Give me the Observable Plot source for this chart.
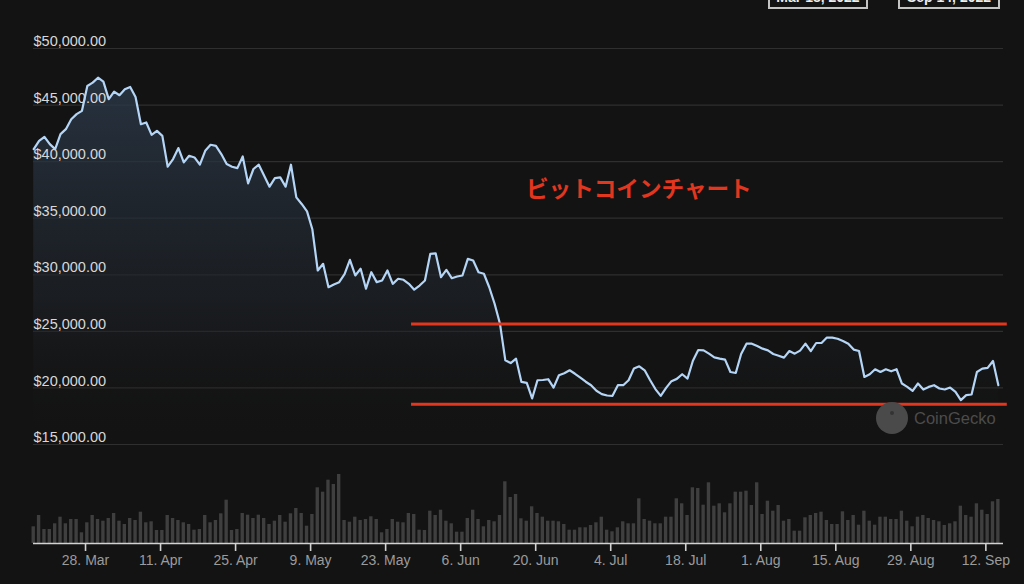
<!DOCTYPE html>
<html>
<head>
<meta charset="utf-8">
<script src="https://cdn.jsdelivr.net/npm/d3@7"></script>
<script src="https://cdn.jsdelivr.net/npm/@observablehq/plot@0.6"></script>
<style>
  html, body { margin: 0; padding: 0; background: #131313; }
  #wrap { position: relative; width: 1024px; height: 584px; overflow: hidden; background: #131313;
          font-family: "Liberation Sans", Arial, sans-serif; }
  #price, #volume { position: absolute; left: 0; }
  #price { top: 0; }
  #volume { top: 460px; }
  #title { position: absolute; left: 526px; top: 177px; color: #e2361f; white-space: nowrap;
           font: 700 22.6px/1 "Noto Sans CJK JP", sans-serif; }
  .datebox { position: absolute; top: -15px; height: 20px; border: 2px solid #c4c4c4; color: #eee;
             font: 700 14px/20px "Liberation Sans", Arial, sans-serif; text-align: center; box-sizing: content-box; }
  #dash { position: absolute; left: 880px; top: -10px; color: #bbb; font: 700 14px "Liberation Sans", Arial; }
  #cg-logo { position: absolute; left: 876px; top: 402px; width: 32px; height: 32px; border-radius: 50%; background: #4a4a4a; }
  #cg-logo::after { content: ""; position: absolute; left: 14px; top: 9px; width: 4px; height: 4px; border-radius: 50%; background: #333; }
  #cg-text { position: absolute; left: 914px; top: 408px; color: #4c4c4c; font: 500 16.5px/20px "Liberation Sans", Arial, sans-serif; }
</style>
</head>
<body>
<div id="wrap">
  <div id="price"></div>
  <div id="volume"></div>
  <div id="title"></div>
  <div class="datebox" id="from" style="left:768px;width:96px;"></div>
  <div id="dash">-</div>
  <div class="datebox" id="to" style="left:898px;width:98px;"></div>
  <div id="cg-logo"></div>
  <div id="cg-text">CoinGecko</div>
</div>
<script>
// ---- data ----
const titleText = "ビットコインチャート";
const fromLabel = "Mar 18, 2022";
const toLabel = "Sep 14, 2022";
const firstDay = "2022-03-18T08:00Z";

// daily BTC price (USD), Mar 18 – Sep 14, 2022
const prices = [
  41100, 41840, 42190, 41550, 41110, 42430, 42870, 43750, 44200, 44490, 46690, 46980, 47420, 47070,
  45520, 46190, 45870, 46400, 46600, 45720, 43310, 43460, 42370, 42720, 42280, 39550, 40230, 41200,
  39930, 40520, 40370, 39730, 40960, 41490, 41400, 40670, 39790, 39550, 39430, 40460, 38080, 39350,
  39730, 38760,
  37790, 38550, 38610, 37790, 39730, 36840, 36260, 35600, 34000, 30380, 30970, 28900, 29150, 29350,
  30050, 31320, 29940, 30530, 28770, 30230, 29350, 29500, 30380, 29200, 29650, 29560, 29200, 28680,
  29050, 29500, 31850,
  31900, 29790, 30440, 29700, 29850, 29940, 31410, 31260, 30230, 30090, 28900, 27440, 25680, 22440,
  22200, 22590, 20530, 20440, 19070, 20680, 20700, 20770, 20030, 21120, 21300, 21560, 21250, 20910,
  20550, 20240,
  19750, 19450, 19330, 19300, 20240, 20240, 20680, 21710, 21910, 21560, 20700, 19900, 19300, 20000,
  20600, 20800, 21210, 20830, 22400, 23350, 23320, 23030, 22700, 22590, 22500, 21410, 21320, 23000,
  23910, 23910, 23700,
  23470, 23320, 23000, 22850, 22680, 23260, 23030, 23300, 23910, 23260, 23970, 23970, 24450, 24450,
  24350, 24150, 23910, 23390, 23260, 20970, 21210, 21650, 21410, 21650, 21470, 21650, 20390, 20090,
  19740, 20390, 19860,
  20090, 20240, 19950, 19860, 20030, 19650, 18920, 19360, 19420, 21410, 21710, 21770, 22380, 20240
];

// daily trading volume (billion USD)
const volumes = [
  16.7, 28, 14, 14, 19.7, 26.3, 19.7, 24, 24, 10.7, 20.7, 28, 24, 22.3, 25, 30, 22.3, 19, 25, 23,
  31.3, 20.7, 21.7, 13, 13, 28, 25, 23, 20.7, 19, 13.3, 14, 28, 20.7, 23, 29.7, 43.3, 13, 14, 30,
  28.3, 25, 28.3, 25, 19,
  22.3, 28, 21.3, 29.7, 35, 30, 17.3, 29, 55.7, 51.3, 63.3, 59, 69, 23, 21.3, 26.3, 23, 24, 26.7, 24,
  10.7, 14, 24, 21.3, 20.7, 30, 29, 13.3, 13, 32.3, 28, 33.3, 22.3, 19.7, 11.3, 11.3, 25, 33.3, 24,
  16.7, 23, 21.7, 28, 61.7, 46,
  49, 24.7, 22.3, 36.7, 30, 26.3, 22.3, 22.3, 21.7, 19, 13.3, 13.3, 15.7, 15.7, 18, 20.7, 26.3, 13.3,
  11.7, 15.7, 21.7, 19.7, 19.7, 44.7, 24, 22.3, 19.7, 19.7, 26.3, 26.3, 44.7, 39.7, 28, 55.7, 55, 38.3,
  60.7, 37.3, 39.7, 30.7, 39.7, 51.3, 51.3, 52.3, 38, 60.7,
  29, 42.3, 32.3, 38, 22.3, 24, 12.3, 12.3, 25.7, 28, 30, 31.3, 23, 19, 19, 31.7, 23, 28, 18.3, 32.3,
  22.3, 18.3, 26.3, 26.3, 24, 24, 32.3, 22.3, 16.7, 26.3, 28, 25, 23, 21.7, 18, 19.7, 21.7, 37.3, 28,
  26.3, 39.7, 33.3, 29, 41.7, 44
];

// y-axis ticks and x-axis tick dates
const yTicks = [15000, 20000, 25000, 30000, 35000, 40000, 45000, 50000];
const xTickDates = ["2022-03-28", "2022-04-11", "2022-04-25", "2022-05-09", "2022-05-23", "2022-06-06",
  "2022-06-20", "2022-07-04", "2022-07-18", "2022-08-01", "2022-08-15", "2022-08-29", "2022-09-12"];

// horizontal range annotation (support / resistance)
const levels = [25650, 18560];
const levelFrom = "2022-05-27T20:00Z";
const levelTo = "2022-09-16T00:00Z";

// visible time window
const xStart = "2022-03-18T07:00Z";
const xEnd = "2022-09-15T07:00Z";

// ---- build ----
const t0 = new Date(firstDay);
const dates = prices.map((_, i) => d3.utcDay.offset(t0, i));
const priceData = dates.map((d, i) => ({date: d, price: prices[i]}));
const volData = dates.map((d, i) => ({date: d, vol: volumes[i]}));
const xDomain = [new Date(xStart), new Date(xEnd)];
const xTicks = xTickDates.map(s => new Date(s + "T00:00Z"));
const fmtUsd = d3.format("$,.2f");
const fmtDate = d3.utcFormat("%-d. %b");
const font = '"Liberation Sans", Arial, sans-serif';

const gradientDefs = () => {
  const defs = document.createElementNS("http://www.w3.org/2000/svg", "defs");
  defs.innerHTML = '<linearGradient id="areaGrad" x1="0" y1="0" x2="0" y2="1">' +
    '<stop offset="0" stop-color="#2c3a4b" stop-opacity="0.8"/>' +
    '<stop offset="0.6" stop-color="#1f242b" stop-opacity="0.6"/>' +
    '<stop offset="1" stop-color="#131313" stop-opacity="0"/></linearGradient>';
  return defs;
};

const pricePlot = Plot.plot({
  width: 1024, height: 460,
  marginLeft: 33, marginRight: 21, marginTop: 48, marginBottom: 16,
  style: {background: "transparent", color: "#ddd", fontFamily: font, overflow: "visible"},
  x: {type: "utc", domain: xDomain, axis: null},
  y: {domain: [15000, 50000], axis: null},
  marks: [
    gradientDefs,
    Plot.gridY(yTicks, {stroke: "#2f2f2f", strokeOpacity: 1, strokeWidth: 1.2}),
    Plot.areaY(priceData, {x: "date", y1: 15000, y2: "price", fill: "url(#areaGrad)"}),
    Plot.text(yTicks, {y: d => d, frameAnchor: "left", text: d => fmtUsd(d), textAnchor: "start",
      dy: -7, fill: "#d8d8d8", fontSize: 14.5}),
    Plot.lineY(priceData, {x: "date", y: "price", stroke: "#b5d5f6", strokeWidth: 2.2}),
    Plot.ruleY(levels, {y: d => d, x1: () => new Date(levelFrom), x2: () => new Date(levelTo),
      stroke: "#e2361f", strokeWidth: 3})
  ]
});
document.getElementById("price").append(pricePlot);

const volPlot = Plot.plot({
  width: 1024, height: 124,
  marginLeft: 33, marginRight: 21, marginTop: 12, marginBottom: 41,
  style: {background: "transparent", color: "#999", fontFamily: font, overflow: "visible"},
  x: {type: "utc", domain: xDomain, label: null},
  y: {domain: [0, 71], axis: null},
  marks: [
    Plot.rectY(volData, {x1: d => d3.utcHour.offset(d.date, -12), x2: d => d3.utcHour.offset(d.date, 12),
      y: "vol", insetLeft: 1, insetRight: 1, fill: "#3f3f3f"}),
    Plot.ruleY([0], {stroke: "#d2d2d2", strokeWidth: 1.6}),
    Plot.axisX(xTicks, {tickSize: 8, tickPadding: 4, tickFormat: fmtDate, stroke: "#d2d2d2",
      strokeWidth: 1.6, fill: "#9b9b9b", fontSize: 14, label: null})
  ]
});
document.getElementById("volume").append(volPlot);

document.getElementById("title").textContent = titleText;
document.getElementById("from").textContent = fromLabel;
document.getElementById("to").textContent = toLabel;
</script>
</body>
</html>
